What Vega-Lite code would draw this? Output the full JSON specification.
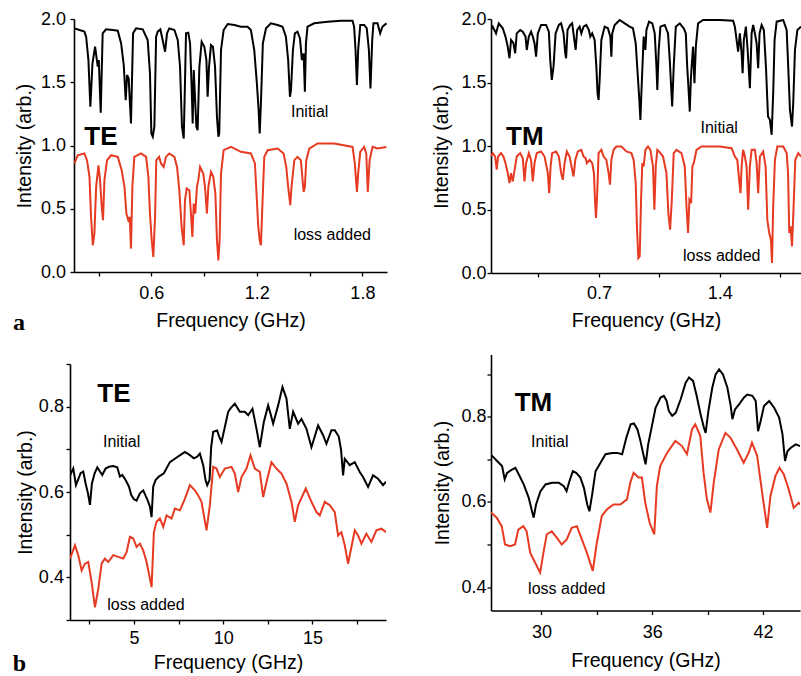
{
"$schema": "https://vega.github.io/schema/vega-lite/v6.json",
"background": "white",
"padding": {"left": 11, "top": 10, "right": 0, "bottom": 0},
"config": {
 "view": {"stroke": null},
 "font": "Liberation Sans",
 "axis": {"domainColor": "#000", "domainWidth": 1.6, "tickColor": "#000", "tickWidth": 1.3, "tickSize": 4, "labelFont": "Liberation Sans", "labelFontSize": 18, "labelColor": "#000", "titleFont": "Liberation Sans", "titleFontSize": 19.5, "titleFontWeight": "normal", "titleColor": "#000", "grid": false, "labelFlush": false, "labelOverlap": false, "labelBound": false}
},
"datasets": {
 "aL_init": [{"f":0.163,"v":1.926},{"f":0.191,"v":1.913},{"f":0.219,"v":1.900},{"f":0.229,"v":1.860},{"f":0.242,"v":1.675},{"f":0.253,"v":1.306},{"f":0.265,"v":1.649},{"f":0.280,"v":1.781},{"f":0.295,"v":1.623},{"f":0.301,"v":1.675},{"f":0.312,"v":1.259},{"f":0.323,"v":1.887},{"f":0.342,"v":1.918},{"f":0.380,"v":1.913},{"f":0.409,"v":1.908},{"f":0.428,"v":1.807},{"f":0.443,"v":1.636},{"f":0.454,"v":1.359},{"f":0.462,"v":1.557},{"f":0.471,"v":1.530},{"f":0.484,"v":1.174},{"f":0.496,"v":1.887},{"f":0.513,"v":1.926},{"f":0.551,"v":1.918},{"f":0.579,"v":1.834},{"f":0.592,"v":1.570},{"f":0.600,"v":1.095},{"f":0.608,"v":1.069},{"f":0.617,"v":1.148},{"f":0.627,"v":1.860},{"f":0.636,"v":1.900},{"f":0.651,"v":1.918},{"f":0.664,"v":1.834},{"f":0.678,"v":1.741},{"f":0.689,"v":1.887},{"f":0.702,"v":1.926},{"f":0.731,"v":1.913},{"f":0.750,"v":1.834},{"f":0.763,"v":1.623},{"f":0.774,"v":1.148},{"f":0.784,"v":1.055},{"f":0.791,"v":1.491},{"f":0.797,"v":1.887},{"f":0.810,"v":1.892},{"f":0.820,"v":1.807},{"f":0.829,"v":1.464},{"f":0.835,"v":1.174},{"f":0.841,"v":1.596},{"f":0.848,"v":1.385},{"f":0.856,"v":1.148},{"f":0.863,"v":1.121},{"f":0.873,"v":1.623},{"f":0.886,"v":1.821},{"f":0.901,"v":1.781},{"f":0.913,"v":1.675},{"f":0.920,"v":1.385},{"f":0.928,"v":1.623},{"f":0.939,"v":1.794},{"f":0.950,"v":1.781},{"f":0.962,"v":1.623},{"f":0.973,"v":1.227},{"f":0.981,"v":1.069},{"f":0.986,"v":1.095},{"f":0.996,"v":1.755},{"f":1.011,"v":1.913},{"f":1.034,"v":1.960},{"f":1.072,"v":1.953},{"f":1.109,"v":1.939},{"f":1.147,"v":1.939},{"f":1.166,"v":1.913},{"f":1.185,"v":1.755},{"f":1.200,"v":1.491},{"f":1.210,"v":1.280},{"f":1.216,"v":1.095},{"f":1.223,"v":1.332},{"f":1.234,"v":1.807},{"f":1.252,"v":1.926},{"f":1.280,"v":1.966},{"f":1.318,"v":1.953},{"f":1.346,"v":1.939},{"f":1.365,"v":1.860},{"f":1.378,"v":1.675},{"f":1.388,"v":1.385},{"f":1.394,"v":1.438},{"f":1.405,"v":1.755},{"f":1.416,"v":1.887},{"f":1.431,"v":1.900},{"f":1.445,"v":1.847},{"f":1.456,"v":1.675},{"f":1.466,"v":1.728},{"f":1.473,"v":1.425},{"f":1.479,"v":1.807},{"f":1.488,"v":1.939},{"f":1.526,"v":1.966},{"f":1.602,"v":1.979},{"f":1.678,"v":1.987},{"f":1.744,"v":1.987},{"f":1.753,"v":1.939},{"f":1.761,"v":1.755},{"f":1.769,"v":1.478},{"f":1.776,"v":1.755},{"f":1.788,"v":1.953},{"f":1.810,"v":1.953},{"f":1.825,"v":1.926},{"f":1.837,"v":1.755},{"f":1.846,"v":1.451},{"f":1.856,"v":1.834},{"f":1.863,"v":1.966},{"f":1.886,"v":1.966},{"f":1.901,"v":1.887},{"f":1.914,"v":1.939},{"f":1.937,"v":1.966}],
 "aL_loss": [{"f":0.163,"v":0.858},{"f":0.181,"v":0.923},{"f":0.219,"v":0.937},{"f":0.234,"v":0.884},{"f":0.248,"v":0.752},{"f":0.257,"v":0.435},{"f":0.267,"v":0.211},{"f":0.276,"v":0.303},{"f":0.286,"v":0.673},{"f":0.299,"v":0.844},{"f":0.308,"v":0.726},{"f":0.318,"v":0.515},{"f":0.325,"v":0.409},{"f":0.333,"v":0.726},{"f":0.348,"v":0.884},{"f":0.371,"v":0.923},{"f":0.409,"v":0.910},{"f":0.431,"v":0.805},{"f":0.447,"v":0.673},{"f":0.458,"v":0.462},{"f":0.469,"v":0.409},{"f":0.477,"v":0.435},{"f":0.484,"v":0.185},{"f":0.492,"v":0.673},{"f":0.503,"v":0.910},{"f":0.541,"v":0.937},{"f":0.570,"v":0.910},{"f":0.583,"v":0.752},{"f":0.592,"v":0.462},{"f":0.602,"v":0.251},{"f":0.611,"v":0.119},{"f":0.621,"v":0.435},{"f":0.628,"v":0.884},{"f":0.644,"v":0.910},{"f":0.655,"v":0.858},{"f":0.670,"v":0.831},{"f":0.683,"v":0.910},{"f":0.702,"v":0.937},{"f":0.731,"v":0.910},{"f":0.746,"v":0.831},{"f":0.759,"v":0.646},{"f":0.772,"v":0.356},{"f":0.784,"v":0.211},{"f":0.791,"v":0.567},{"f":0.801,"v":0.660},{"f":0.816,"v":0.646},{"f":0.825,"v":0.462},{"f":0.833,"v":0.277},{"f":0.841,"v":0.541},{"f":0.850,"v":0.462},{"f":0.859,"v":0.673},{"f":0.867,"v":0.726},{"f":0.877,"v":0.831},{"f":0.886,"v":0.805},{"f":0.895,"v":0.778},{"f":0.905,"v":0.673},{"f":0.916,"v":0.462},{"f":0.924,"v":0.673},{"f":0.939,"v":0.792},{"f":0.952,"v":0.752},{"f":0.964,"v":0.620},{"f":0.973,"v":0.251},{"f":0.981,"v":0.092},{"f":0.988,"v":0.251},{"f":0.996,"v":0.778},{"f":1.011,"v":0.963},{"f":1.053,"v":0.989},{"f":1.109,"v":0.950},{"f":1.166,"v":0.937},{"f":1.189,"v":0.858},{"f":1.200,"v":0.567},{"f":1.208,"v":0.356},{"f":1.216,"v":0.251},{"f":1.223,"v":0.211},{"f":1.231,"v":0.515},{"f":1.242,"v":0.910},{"f":1.261,"v":0.963},{"f":1.318,"v":0.976},{"f":1.352,"v":0.937},{"f":1.367,"v":0.831},{"f":1.378,"v":0.673},{"f":1.390,"v":0.528},{"f":1.397,"v":0.673},{"f":1.413,"v":0.884},{"f":1.431,"v":0.910},{"f":1.450,"v":0.884},{"f":1.460,"v":0.726},{"f":1.466,"v":0.633},{"f":1.473,"v":0.673},{"f":1.481,"v":0.884},{"f":1.498,"v":0.976},{"f":1.545,"v":1.016},{"f":1.640,"v":1.016},{"f":1.744,"v":0.989},{"f":1.757,"v":0.858},{"f":1.769,"v":0.633},{"f":1.776,"v":0.778},{"f":1.788,"v":0.950},{"f":1.810,"v":0.989},{"f":1.822,"v":0.937},{"f":1.831,"v":0.633},{"f":1.841,"v":0.884},{"f":1.858,"v":0.989},{"f":1.886,"v":0.976},{"f":1.937,"v":0.989}],
 "aR_init": [{"f":0.076,"v":1.920},{"f":0.085,"v":1.940},{"f":0.104,"v":1.887},{"f":0.120,"v":1.966},{"f":0.143,"v":1.927},{"f":0.159,"v":1.861},{"f":0.172,"v":1.782},{"f":0.182,"v":1.691},{"f":0.191,"v":1.835},{"f":0.205,"v":1.809},{"f":0.215,"v":1.730},{"f":0.224,"v":1.887},{"f":0.244,"v":1.913},{"f":0.259,"v":1.900},{"f":0.275,"v":1.861},{"f":0.282,"v":1.756},{"f":0.294,"v":1.861},{"f":0.307,"v":1.900},{"f":0.317,"v":1.861},{"f":0.327,"v":1.809},{"f":0.336,"v":1.704},{"f":0.346,"v":1.887},{"f":0.365,"v":1.953},{"f":0.394,"v":1.953},{"f":0.410,"v":1.900},{"f":0.418,"v":1.678},{"f":0.427,"v":1.520},{"f":0.437,"v":1.625},{"f":0.449,"v":1.887},{"f":0.468,"v":1.953},{"f":0.481,"v":1.966},{"f":0.495,"v":1.887},{"f":0.505,"v":1.730},{"f":0.510,"v":1.691},{"f":0.518,"v":1.913},{"f":0.534,"v":1.953},{"f":0.545,"v":1.966},{"f":0.555,"v":1.861},{"f":0.565,"v":1.756},{"f":0.574,"v":1.913},{"f":0.588,"v":1.940},{"f":0.598,"v":1.887},{"f":0.611,"v":1.940},{"f":0.627,"v":1.953},{"f":0.642,"v":1.913},{"f":0.650,"v":1.861},{"f":0.661,"v":1.887},{"f":0.675,"v":1.835},{"f":0.685,"v":1.625},{"f":0.692,"v":1.415},{"f":0.698,"v":1.363},{"f":0.704,"v":1.520},{"f":0.714,"v":1.835},{"f":0.733,"v":1.940},{"f":0.752,"v":1.927},{"f":0.766,"v":1.861},{"f":0.772,"v":1.704},{"f":0.777,"v":1.887},{"f":0.791,"v":1.953},{"f":0.820,"v":1.992},{"f":0.849,"v":1.966},{"f":0.878,"v":1.940},{"f":0.897,"v":1.927},{"f":0.913,"v":1.809},{"f":0.924,"v":1.573},{"f":0.934,"v":1.363},{"f":0.940,"v":1.206},{"f":0.948,"v":1.494},{"f":0.959,"v":1.861},{"f":0.969,"v":1.756},{"f":0.975,"v":1.913},{"f":0.990,"v":1.979},{"f":1.009,"v":1.966},{"f":1.023,"v":1.887},{"f":1.033,"v":1.625},{"f":1.038,"v":1.442},{"f":1.046,"v":1.756},{"f":1.056,"v":1.940},{"f":1.081,"v":1.953},{"f":1.100,"v":1.887},{"f":1.110,"v":1.678},{"f":1.118,"v":1.468},{"f":1.124,"v":1.311},{"f":1.133,"v":1.625},{"f":1.145,"v":1.940},{"f":1.168,"v":1.966},{"f":1.191,"v":1.927},{"f":1.203,"v":1.887},{"f":1.211,"v":1.625},{"f":1.218,"v":1.468},{"f":1.226,"v":1.271},{"f":1.232,"v":1.520},{"f":1.238,"v":1.651},{"f":1.245,"v":1.782},{"f":1.253,"v":1.494},{"f":1.261,"v":1.782},{"f":1.274,"v":1.966},{"f":1.303,"v":1.992},{"f":1.400,"v":1.992},{"f":1.477,"v":1.987},{"f":1.487,"v":1.940},{"f":1.497,"v":1.835},{"f":1.506,"v":1.743},{"f":1.516,"v":1.887},{"f":1.526,"v":1.730},{"f":1.532,"v":1.573},{"f":1.539,"v":1.835},{"f":1.551,"v":1.940},{"f":1.561,"v":1.756},{"f":1.574,"v":1.455},{"f":1.584,"v":1.887},{"f":1.593,"v":1.953},{"f":1.603,"v":1.887},{"f":1.613,"v":1.809},{"f":1.622,"v":1.612},{"f":1.630,"v":1.887},{"f":1.642,"v":1.953},{"f":1.655,"v":1.913},{"f":1.667,"v":1.625},{"f":1.679,"v":1.232},{"f":1.690,"v":1.206},{"f":1.700,"v":1.088},{"f":1.709,"v":1.415},{"f":1.717,"v":1.835},{"f":1.729,"v":1.979},{"f":1.767,"v":1.992},{"f":1.787,"v":1.913},{"f":1.796,"v":1.625},{"f":1.806,"v":1.284},{"f":1.818,"v":1.153},{"f":1.825,"v":1.337},{"f":1.835,"v":1.756},{"f":1.849,"v":1.913},{"f":1.870,"v":1.940}],
 "aR_loss": [{"f":0.076,"v":0.920},{"f":0.085,"v":0.944},{"f":0.099,"v":0.917},{"f":0.108,"v":0.813},{"f":0.116,"v":0.917},{"f":0.133,"v":0.944},{"f":0.147,"v":0.917},{"f":0.159,"v":0.865},{"f":0.172,"v":0.786},{"f":0.182,"v":0.708},{"f":0.191,"v":0.786},{"f":0.201,"v":0.721},{"f":0.215,"v":0.839},{"f":0.224,"v":0.917},{"f":0.244,"v":0.944},{"f":0.259,"v":0.904},{"f":0.269,"v":0.721},{"f":0.278,"v":0.865},{"f":0.294,"v":0.944},{"f":0.307,"v":0.891},{"f":0.317,"v":0.721},{"f":0.327,"v":0.865},{"f":0.340,"v":0.944},{"f":0.365,"v":0.957},{"f":0.385,"v":0.917},{"f":0.404,"v":0.786},{"f":0.412,"v":0.629},{"f":0.420,"v":0.839},{"f":0.429,"v":0.944},{"f":0.452,"v":0.957},{"f":0.468,"v":0.917},{"f":0.481,"v":0.786},{"f":0.491,"v":0.734},{"f":0.501,"v":0.865},{"f":0.514,"v":0.957},{"f":0.530,"v":0.917},{"f":0.545,"v":0.813},{"f":0.553,"v":0.760},{"f":0.563,"v":0.891},{"f":0.578,"v":0.957},{"f":0.598,"v":0.970},{"f":0.611,"v":0.917},{"f":0.623,"v":0.904},{"f":0.630,"v":0.865},{"f":0.646,"v":0.891},{"f":0.661,"v":0.865},{"f":0.671,"v":0.786},{"f":0.677,"v":0.577},{"f":0.683,"v":0.433},{"f":0.690,"v":0.629},{"f":0.698,"v":0.944},{"f":0.714,"v":0.970},{"f":0.727,"v":0.917},{"f":0.743,"v":0.891},{"f":0.756,"v":0.786},{"f":0.764,"v":0.695},{"f":0.772,"v":0.891},{"f":0.785,"v":0.970},{"f":0.801,"v":0.996},{"f":0.830,"v":0.996},{"f":0.859,"v":0.957},{"f":0.888,"v":0.944},{"f":0.901,"v":0.891},{"f":0.913,"v":0.708},{"f":0.920,"v":0.367},{"f":0.928,"v":0.118},{"f":0.936,"v":0.131},{"f":0.944,"v":0.577},{"f":0.951,"v":0.865},{"f":0.959,"v":0.839},{"f":0.969,"v":0.970},{"f":0.984,"v":0.996},{"f":0.998,"v":0.970},{"f":1.013,"v":0.839},{"f":1.021,"v":0.498},{"f":1.029,"v":0.839},{"f":1.038,"v":0.970},{"f":1.056,"v":0.944},{"f":1.071,"v":0.917},{"f":1.091,"v":0.786},{"f":1.102,"v":0.472},{"f":1.112,"v":0.341},{"f":1.122,"v":0.577},{"f":1.133,"v":0.944},{"f":1.149,"v":0.970},{"f":1.178,"v":0.944},{"f":1.197,"v":0.839},{"f":1.207,"v":0.524},{"f":1.216,"v":0.315},{"f":1.224,"v":0.577},{"f":1.234,"v":0.550},{"f":1.241,"v":0.839},{"f":1.249,"v":0.865},{"f":1.265,"v":0.970},{"f":1.294,"v":0.996},{"f":1.400,"v":0.996},{"f":1.468,"v":0.983},{"f":1.487,"v":0.917},{"f":1.501,"v":0.891},{"f":1.512,"v":0.734},{"f":1.520,"v":0.629},{"f":1.526,"v":0.839},{"f":1.535,"v":0.970},{"f":1.545,"v":0.917},{"f":1.555,"v":0.839},{"f":1.564,"v":0.498},{"f":1.574,"v":0.839},{"f":1.584,"v":0.970},{"f":1.603,"v":0.970},{"f":1.613,"v":0.865},{"f":1.622,"v":0.629},{"f":1.632,"v":0.917},{"f":1.651,"v":0.957},{"f":1.665,"v":0.839},{"f":1.675,"v":0.419},{"f":1.686,"v":0.315},{"f":1.696,"v":0.262},{"f":1.702,"v":0.079},{"f":1.709,"v":0.524},{"f":1.719,"v":0.891},{"f":1.733,"v":0.996},{"f":1.767,"v":0.996},{"f":1.787,"v":0.944},{"f":1.795,"v":0.786},{"f":1.802,"v":0.315},{"f":1.810,"v":0.367},{"f":1.818,"v":0.210},{"f":1.825,"v":0.446},{"f":1.837,"v":0.891},{"f":1.854,"v":0.944},{"f":1.870,"v":0.917}],
 "bL_init": [{"f":1.42,"v":0.639},{"f":1.604,"v":0.655},{"f":1.754,"v":0.616},{"f":2.015,"v":0.644},{"f":2.164,"v":0.648},{"f":2.295,"v":0.620},{"f":2.425,"v":0.597},{"f":2.537,"v":0.570},{"f":2.649,"v":0.620},{"f":2.799,"v":0.644},{"f":2.948,"v":0.658},{"f":3.097,"v":0.648},{"f":3.228,"v":0.640},{"f":3.414,"v":0.655},{"f":3.601,"v":0.659},{"f":3.843,"v":0.661},{"f":4.067,"v":0.658},{"f":4.216,"v":0.636},{"f":4.347,"v":0.640},{"f":4.534,"v":0.628},{"f":4.720,"v":0.613},{"f":4.851,"v":0.593},{"f":5.000,"v":0.583},{"f":5.149,"v":0.580},{"f":5.336,"v":0.597},{"f":5.522,"v":0.604},{"f":5.746,"v":0.583},{"f":5.896,"v":0.566},{"f":5.989,"v":0.541},{"f":6.082,"v":0.613},{"f":6.213,"v":0.628},{"f":6.399,"v":0.636},{"f":6.679,"v":0.644},{"f":7.015,"v":0.670},{"f":7.332,"v":0.679},{"f":7.612,"v":0.687},{"f":7.854,"v":0.694},{"f":8.116,"v":0.687},{"f":8.358,"v":0.679},{"f":8.545,"v":0.683},{"f":8.694,"v":0.690},{"f":8.881,"v":0.663},{"f":9.011,"v":0.628},{"f":9.104,"v":0.616},{"f":9.235,"v":0.628},{"f":9.328,"v":0.706},{"f":9.440,"v":0.741},{"f":9.664,"v":0.744},{"f":9.776,"v":0.730},{"f":9.907,"v":0.717},{"f":10.075,"v":0.749},{"f":10.280,"v":0.788},{"f":10.410,"v":0.796},{"f":10.653,"v":0.807},{"f":10.933,"v":0.788},{"f":11.213,"v":0.788},{"f":11.399,"v":0.780},{"f":11.642,"v":0.795},{"f":11.866,"v":0.748},{"f":12.052,"v":0.705},{"f":12.276,"v":0.764},{"f":12.519,"v":0.803},{"f":12.649,"v":0.784},{"f":12.799,"v":0.760},{"f":13.078,"v":0.803},{"f":13.321,"v":0.846},{"f":13.545,"v":0.819},{"f":13.731,"v":0.748},{"f":13.918,"v":0.788},{"f":14.198,"v":0.760},{"f":14.384,"v":0.771},{"f":14.664,"v":0.748},{"f":14.944,"v":0.705},{"f":15.317,"v":0.756},{"f":15.597,"v":0.733},{"f":15.784,"v":0.713},{"f":16.063,"v":0.745},{"f":16.250,"v":0.745},{"f":16.474,"v":0.730},{"f":16.604,"v":0.698},{"f":16.716,"v":0.639},{"f":16.810,"v":0.678},{"f":17.090,"v":0.663},{"f":17.369,"v":0.670},{"f":17.649,"v":0.647},{"f":17.836,"v":0.635},{"f":18.116,"v":0.612},{"f":18.396,"v":0.639},{"f":18.675,"v":0.631},{"f":18.955,"v":0.616},{"f":19.12,"v":0.624}],
 "bL_loss": [{"f":1.42,"v":0.444},{"f":1.698,"v":0.475},{"f":1.884,"v":0.452},{"f":2.071,"v":0.416},{"f":2.257,"v":0.432},{"f":2.444,"v":0.436},{"f":2.631,"v":0.389},{"f":2.817,"v":0.330},{"f":3.004,"v":0.373},{"f":3.190,"v":0.432},{"f":3.377,"v":0.444},{"f":3.563,"v":0.436},{"f":3.843,"v":0.452},{"f":4.123,"v":0.448},{"f":4.403,"v":0.444},{"f":4.590,"v":0.459},{"f":4.776,"v":0.495},{"f":4.963,"v":0.491},{"f":5.149,"v":0.471},{"f":5.336,"v":0.479},{"f":5.522,"v":0.463},{"f":5.709,"v":0.436},{"f":5.896,"v":0.397},{"f":5.989,"v":0.377},{"f":6.119,"v":0.506},{"f":6.269,"v":0.530},{"f":6.455,"v":0.538},{"f":6.642,"v":0.518},{"f":6.828,"v":0.545},{"f":7.108,"v":0.538},{"f":7.295,"v":0.561},{"f":7.575,"v":0.557},{"f":7.854,"v":0.584},{"f":8.134,"v":0.616},{"f":8.414,"v":0.604},{"f":8.601,"v":0.592},{"f":8.787,"v":0.577},{"f":9.067,"v":0.510},{"f":9.254,"v":0.569},{"f":9.440,"v":0.659},{"f":9.627,"v":0.655},{"f":9.813,"v":0.635},{"f":10.093,"v":0.655},{"f":10.466,"v":0.659},{"f":10.653,"v":0.643},{"f":10.840,"v":0.600},{"f":11.026,"v":0.635},{"f":11.306,"v":0.655},{"f":11.530,"v":0.686},{"f":11.772,"v":0.655},{"f":12.052,"v":0.647},{"f":12.239,"v":0.588},{"f":12.425,"v":0.623},{"f":12.705,"v":0.670},{"f":12.985,"v":0.655},{"f":13.265,"v":0.643},{"f":13.545,"v":0.620},{"f":13.825,"v":0.577},{"f":14.011,"v":0.530},{"f":14.198,"v":0.569},{"f":14.627,"v":0.608},{"f":14.944,"v":0.577},{"f":15.224,"v":0.553},{"f":15.410,"v":0.545},{"f":15.690,"v":0.577},{"f":15.970,"v":0.569},{"f":16.250,"v":0.553},{"f":16.437,"v":0.498},{"f":16.623,"v":0.506},{"f":16.810,"v":0.475},{"f":16.996,"v":0.432},{"f":17.183,"v":0.471},{"f":17.369,"v":0.510},{"f":17.556,"v":0.498},{"f":17.743,"v":0.479},{"f":18.022,"v":0.502},{"f":18.302,"v":0.483},{"f":18.582,"v":0.510},{"f":18.862,"v":0.514},{"f":19.12,"v":0.506}],
 "bR_init": [{"f":27.27,"v":0.708},{"f":27.33,"v":0.708},{"f":27.60,"v":0.696},{"f":27.87,"v":0.684},{"f":28.01,"v":0.653},{"f":28.14,"v":0.668},{"f":28.41,"v":0.676},{"f":28.59,"v":0.680},{"f":28.77,"v":0.665},{"f":29.04,"v":0.641},{"f":29.31,"v":0.610},{"f":29.49,"v":0.578},{"f":29.58,"v":0.563},{"f":29.71,"v":0.594},{"f":29.95,"v":0.625},{"f":30.22,"v":0.641},{"f":30.58,"v":0.645},{"f":30.94,"v":0.645},{"f":31.21,"v":0.637},{"f":31.36,"v":0.625},{"f":31.52,"v":0.649},{"f":31.70,"v":0.672},{"f":31.88,"v":0.668},{"f":32.11,"v":0.657},{"f":32.30,"v":0.633},{"f":32.48,"v":0.594},{"f":32.60,"v":0.578},{"f":32.75,"v":0.618},{"f":32.93,"v":0.672},{"f":33.20,"v":0.692},{"f":33.47,"v":0.712},{"f":33.83,"v":0.715},{"f":34.10,"v":0.715},{"f":34.37,"v":0.712},{"f":34.60,"v":0.751},{"f":34.83,"v":0.782},{"f":35.01,"v":0.784},{"f":35.20,"v":0.770},{"f":35.35,"v":0.745},{"f":35.50,"v":0.715},{"f":35.64,"v":0.688},{"f":35.78,"v":0.735},{"f":36.00,"v":0.782},{"f":36.18,"v":0.821},{"f":36.45,"v":0.845},{"f":36.63,"v":0.849},{"f":36.78,"v":0.837},{"f":36.90,"v":0.813},{"f":37.08,"v":0.802},{"f":37.27,"v":0.809},{"f":37.54,"v":0.841},{"f":37.81,"v":0.880},{"f":37.99,"v":0.892},{"f":38.21,"v":0.884},{"f":38.39,"v":0.852},{"f":38.62,"v":0.805},{"f":38.80,"v":0.774},{"f":38.89,"v":0.762},{"f":39.04,"v":0.813},{"f":39.25,"v":0.868},{"f":39.43,"v":0.899},{"f":39.62,"v":0.911},{"f":39.83,"v":0.899},{"f":40.07,"v":0.868},{"f":40.25,"v":0.825},{"f":40.34,"v":0.794},{"f":40.48,"v":0.817},{"f":40.70,"v":0.829},{"f":40.97,"v":0.845},{"f":41.15,"v":0.852},{"f":41.42,"v":0.849},{"f":41.60,"v":0.837},{"f":41.73,"v":0.766},{"f":41.87,"v":0.790},{"f":42.05,"v":0.825},{"f":42.33,"v":0.837},{"f":42.60,"v":0.821},{"f":42.87,"v":0.798},{"f":43.05,"v":0.759},{"f":43.19,"v":0.696},{"f":43.32,"v":0.719},{"f":43.50,"v":0.727},{"f":43.77,"v":0.735},{"f":44.01,"v":0.731}],
 "bR_loss": [{"f":27.27,"v":0.575},{"f":27.58,"v":0.563},{"f":27.85,"v":0.543},{"f":28.03,"v":0.500},{"f":28.30,"v":0.496},{"f":28.57,"v":0.500},{"f":28.75,"v":0.535},{"f":29.02,"v":0.543},{"f":29.20,"v":0.531},{"f":29.39,"v":0.481},{"f":29.66,"v":0.457},{"f":29.93,"v":0.434},{"f":30.11,"v":0.481},{"f":30.29,"v":0.524},{"f":30.56,"v":0.531},{"f":30.83,"v":0.516},{"f":31.10,"v":0.500},{"f":31.37,"v":0.512},{"f":31.64,"v":0.539},{"f":31.92,"v":0.543},{"f":32.19,"v":0.512},{"f":32.46,"v":0.481},{"f":32.78,"v":0.438},{"f":33.00,"v":0.504},{"f":33.27,"v":0.567},{"f":33.54,"v":0.582},{"f":33.90,"v":0.594},{"f":34.27,"v":0.594},{"f":34.63,"v":0.606},{"f":34.81,"v":0.645},{"f":34.99,"v":0.668},{"f":35.26,"v":0.657},{"f":35.44,"v":0.657},{"f":35.62,"v":0.598},{"f":35.86,"v":0.551},{"f":36.11,"v":0.524},{"f":36.25,"v":0.637},{"f":36.43,"v":0.684},{"f":36.80,"v":0.715},{"f":37.25,"v":0.743},{"f":37.61,"v":0.731},{"f":37.88,"v":0.712},{"f":38.15,"v":0.770},{"f":38.33,"v":0.782},{"f":38.60,"v":0.755},{"f":38.78,"v":0.668},{"f":38.96,"v":0.606},{"f":39.15,"v":0.575},{"f":39.33,"v":0.645},{"f":39.60,"v":0.723},{"f":39.96,"v":0.762},{"f":40.23,"v":0.751},{"f":40.59,"v":0.723},{"f":40.95,"v":0.692},{"f":41.22,"v":0.715},{"f":41.40,"v":0.739},{"f":41.68,"v":0.708},{"f":41.95,"v":0.622},{"f":42.22,"v":0.539},{"f":42.40,"v":0.614},{"f":42.67,"v":0.661},{"f":42.89,"v":0.680},{"f":43.12,"v":0.665},{"f":43.39,"v":0.629},{"f":43.66,"v":0.586},{"f":43.93,"v":0.598},{"f":44.01,"v":0.594}]
},
"spacing": 44,
"hconcat": [
 {"concat": [
  {"width": 1, "height": 1, "data": {"values": []}, "mark": {"type": "point", "opacity": 0}, "encoding": {}},
  {"width": 313, "height": 253,
   "layer": [
    {"data": {"name": "aL_init"}, "mark": {"type": "line", "color": "#000000", "strokeWidth": 2, "clip": true},
     "encoding": {
      "x": {"field": "f", "type": "quantitative", "scale": {"domain": [0.16, 1.94], "nice": false, "zero": false},
            "axis": {"title": "Frequency (GHz)", "values": [0.3, 0.6, 0.9, 1.2, 1.5, 1.8], "labelExpr": "abs(datum.value/0.6 - round(datum.value/0.6)) < 0.01 ? format(datum.value, '.1f') : ''", "labelPadding": 8, "titlePadding": 9}},
      "y": {"field": "v", "type": "quantitative", "scale": {"domain": [0, 2], "nice": false, "zero": false},
            "axis": {"title": "Intensity (arb.)", "values": [0, 0.25, 0.5, 0.75, 1, 1.25, 1.5, 1.75, 2], "labelExpr": "datum.value % 0.5 == 0 ? format(datum.value, '.1f') : ''", "labelPadding": 4.4, "titlePadding": 6.5}}
     }},
    {"data": {"name": "aL_loss"}, "mark": {"type": "line", "color": "#e63a22", "strokeWidth": 2, "clip": true},
     "encoding": {"x": {"field": "f", "type": "quantitative"}, "y": {"field": "v", "type": "quantitative"}}},
    {"data": {"values": [{"f": 0.219, "v": 1.003, "t": "TE"}]}, "mark": {"type": "text", "fontSize": 26, "fontWeight": "bold", "align": "left", "baseline": "alphabetic", "color": "#000"},
     "encoding": {"x": {"field": "f", "type": "quantitative"}, "y": {"field": "v", "type": "quantitative"}, "text": {"field": "t"}}},
    {"data": {"values": [{"f": 1.394, "v": 1.222, "t": "Initial"}, {"f": 1.409, "v": 0.256, "t": "loss added"}]}, "mark": {"type": "text", "fontSize": 16, "align": "left", "baseline": "alphabetic", "color": "#000"},
     "encoding": {"x": {"field": "f", "type": "quantitative"}, "y": {"field": "v", "type": "quantitative"}, "text": {"field": "t"}}},
    {"data": {"values": [{"f": -0.187, "v": -0.459, "t": "a"}]}, "mark": {"type": "text", "font": "Liberation Serif", "fontSize": 24, "fontWeight": "bold", "align": "left", "baseline": "alphabetic", "color": "#000"},
     "encoding": {"x": {"field": "f", "type": "quantitative"}, "y": {"field": "v", "type": "quantitative"}, "text": {"field": "t"}}}
   ]},
  {"width": 1, "height": 1, "data": {"values": []}, "mark": {"type": "point", "opacity": 0}, "encoding": {}},
  {"width": 316, "height": 256,
   "layer": [
    {"data": {"name": "bL_init"}, "mark": {"type": "line", "color": "#000000", "strokeWidth": 2, "clip": true},
     "encoding": {
      "x": {"field": "f", "type": "quantitative", "scale": {"domain": [1.42, 19.12], "nice": false, "zero": false},
            "axis": {"title": "Frequency (GHz)", "values": [2.5, 5, 7.5, 10, 12.5, 15, 17.5], "labelExpr": "datum.value % 5 == 0 ? format(datum.value, 'd') : ''", "labelPadding": 5.4, "titlePadding": 6}},
      "y": {"field": "v", "type": "quantitative", "scale": {"domain": [0.3, 0.9], "nice": false, "zero": false},
            "axis": {"title": "Intensity (arb.)", "values": [0.3, 0.4, 0.5, 0.6, 0.7, 0.8, 0.9], "labelExpr": "abs(datum.value*5 - round(datum.value*5)) < 0.01 ? format(datum.value, '.1f') : ''", "labelPadding": 2.6, "titlePadding": 2.5}}
     }},
    {"data": {"name": "bL_loss"}, "mark": {"type": "line", "color": "#e63a22", "strokeWidth": 2, "clip": true},
     "encoding": {"x": {"field": "f", "type": "quantitative"}, "y": {"field": "v", "type": "quantitative"}}},
    {"data": {"values": [{"f": 2.948, "v": 0.812, "t": "TE"}]}, "mark": {"type": "text", "fontSize": 26, "fontWeight": "bold", "align": "left", "baseline": "alphabetic", "color": "#000"},
     "encoding": {"x": {"field": "f", "type": "quantitative"}, "y": {"field": "v", "type": "quantitative"}, "text": {"field": "t"}}},
    {"data": {"values": [{"f": 3.265, "v": 0.705, "t": "Initial"}, {"f": 3.507, "v": 0.323, "t": "loss added"}]}, "mark": {"type": "text", "fontSize": 16, "align": "left", "baseline": "alphabetic", "color": "#000"},
     "encoding": {"x": {"field": "f", "type": "quantitative"}, "y": {"field": "v", "type": "quantitative"}, "text": {"field": "t"}}},
    {"data": {"values": [{"f": -1.786, "v": 0.1695, "t": "b"}]}, "mark": {"type": "text", "font": "Liberation Serif", "fontSize": 24, "fontWeight": "bold", "align": "left", "baseline": "bottom", "color": "#000"},
     "encoding": {"x": {"field": "f", "type": "quantitative"}, "y": {"field": "v", "type": "quantitative"}, "text": {"field": "t"}}}
   ]}
 ], "columns": 2, "spacing": {"row": 19, "column": 0}, "align": "none"},
 {"concat": [
  {"width": 310, "height": 254,
   "layer": [
    {"data": {"name": "aR_init"}, "mark": {"type": "line", "color": "#000000", "strokeWidth": 2, "clip": true},
     "encoding": {
      "x": {"field": "f", "type": "quantitative", "scale": {"domain": [0.075, 1.87], "nice": false, "zero": false},
            "axis": {"title": "Frequency (GHz)", "values": [0.35, 0.7, 1.05, 1.4, 1.75], "labelExpr": "abs(datum.value/0.7 - round(datum.value/0.7)) < 0.01 ? format(datum.value, '.1f') : ''", "labelPadding": 7.4, "titlePadding": 9.2}},
      "y": {"field": "v", "type": "quantitative", "scale": {"domain": [0, 2], "nice": false, "zero": false},
            "axis": {"title": "Intensity (arb.)", "values": [0, 0.25, 0.5, 0.75, 1, 1.25, 1.5, 1.75, 2], "labelExpr": "datum.value % 0.5 == 0 ? format(datum.value, '.1f') : ''", "labelPadding": 1, "titlePadding": 9.5}}
     }},
    {"data": {"name": "aR_loss"}, "mark": {"type": "line", "color": "#e63a22", "strokeWidth": 2, "clip": true},
     "encoding": {"x": {"field": "f", "type": "quantitative"}, "y": {"field": "v", "type": "quantitative"}}},
    {"data": {"values": [{"f": 0.162, "v": 1.004, "t": "TM"}]}, "mark": {"type": "text", "fontSize": 26, "fontWeight": "bold", "align": "left", "baseline": "alphabetic", "color": "#000"},
     "encoding": {"x": {"field": "f", "type": "quantitative"}, "y": {"field": "v", "type": "quantitative"}, "text": {"field": "t"}}},
    {"data": {"values": [{"f": 1.288, "v": 1.101, "t": "Initial"}, {"f": 1.187, "v": 0.097, "t": "loss added"}]}, "mark": {"type": "text", "fontSize": 16, "align": "left", "baseline": "alphabetic", "color": "#000"},
     "encoding": {"x": {"field": "f", "type": "quantitative"}, "y": {"field": "v", "type": "quantitative"}, "text": {"field": "t"}}}
   ]},
  {"width": 309, "height": 256,
   "layer": [
    {"data": {"name": "bR_init"}, "mark": {"type": "line", "color": "#000000", "strokeWidth": 2, "clip": true},
     "encoding": {
      "x": {"field": "f", "type": "quantitative", "scale": {"domain": [27.27, 44.0], "nice": false, "zero": false},
            "axis": {"title": "Frequency (GHz)", "values": [30, 33, 36, 39, 42], "labelExpr": "datum.value % 6 == 0 ? format(datum.value, 'd') : ''", "labelPadding": 9.3, "titlePadding": 9.6}},
      "y": {"field": "v", "type": "quantitative", "scale": {"domain": [0.345, 0.946], "nice": false, "zero": false},
            "axis": {"title": "Intensity (arb.)", "values": [0.4, 0.5, 0.6, 0.7, 0.8, 0.9], "labelExpr": "abs(datum.value*5 - round(datum.value*5)) < 0.01 ? format(datum.value, '.1f') : ''", "labelPadding": 1, "titlePadding": 8.6}}
     }},
    {"data": {"name": "bR_loss"}, "mark": {"type": "line", "color": "#e63a22", "strokeWidth": 2, "clip": true},
     "encoding": {"x": {"field": "f", "type": "quantitative"}, "y": {"field": "v", "type": "quantitative"}}},
    {"data": {"values": [{"f": 28.55, "v": 0.813, "t": "TM"}]}, "mark": {"type": "text", "fontSize": 26, "fontWeight": "bold", "align": "left", "baseline": "alphabetic", "color": "#000"},
     "encoding": {"x": {"field": "f", "type": "quantitative"}, "y": {"field": "v", "type": "quantitative"}, "text": {"field": "t"}}},
    {"data": {"values": [{"f": 29.44, "v": 0.730, "t": "Initial"}, {"f": 29.28, "v": 0.383, "t": "loss added"}]}, "mark": {"type": "text", "fontSize": 16, "align": "left", "baseline": "alphabetic", "color": "#000"},
     "encoding": {"x": {"field": "f", "type": "quantitative"}, "y": {"field": "v", "type": "quantitative"}, "text": {"field": "t"}}}
   ]}
 ], "columns": 1, "spacing": 23.5, "align": "none"}
]
}
